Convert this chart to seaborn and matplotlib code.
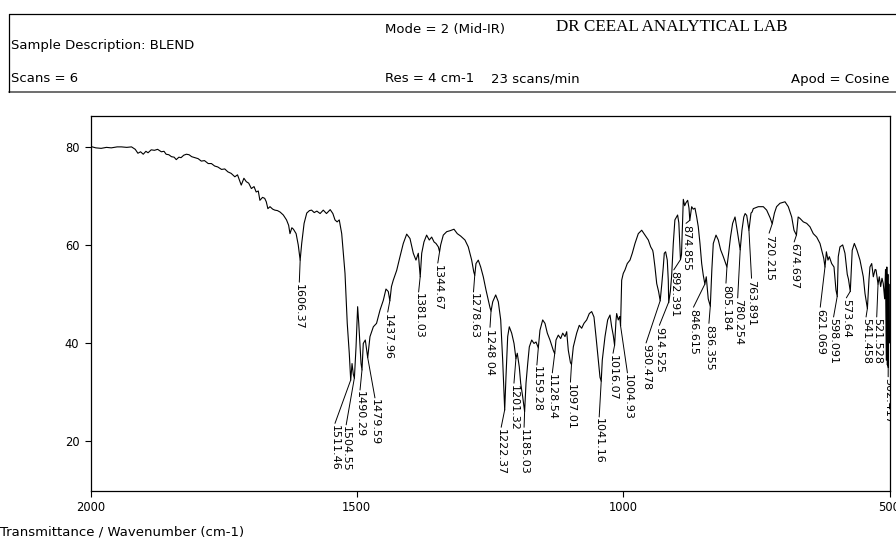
import numpy as np
import pandas as pd
import matplotlib
matplotlib.use("Agg")
import matplotlib.pyplot as plt
import seaborn as sns

# ---------------- data ----------------
wavenumber = [
    2000, 1990, 1980, 1970, 1961, 1950, 1942, 1932, 1923, 1916, 1911, 1906, 1901, 1896,
    1892, 1886, 1880, 1874, 1867, 1862, 1858, 1853, 1848, 1843, 1839, 1834, 1830, 1825,
    1820, 1815, 1810, 1804, 1798, 1792, 1786, 1779, 1773, 1767, 1761, 1754, 1748, 1742,
    1736, 1729, 1724, 1717, 1712, 1707.5, 1703, 1698, 1693, 1689, 1685, 1682, 1677, 1673,
    1670, 1667, 1663, 1658, 1654, 1649, 1644, 1638, 1632, 1628, 1625.5, 1622, 1619, 1614,
    1610, 1606.4, 1603.5, 1599, 1594, 1589, 1585, 1580, 1575, 1569, 1563, 1557, 1550, 1545,
    1541, 1537, 1533, 1528.4, 1522.2, 1518, 1514.2, 1511.5, 1509, 1506.6, 1504.6, 1501.5,
    1498.5, 1496.4, 1494, 1492.1, 1490.3, 1487.9, 1484.1, 1479.6, 1475.3, 1469, 1463, 1456.5,
    1450.3, 1445.3, 1441, 1438, 1435, 1431.6, 1425.2, 1419, 1412.8, 1406.4, 1400.2, 1394,
    1389, 1384.6, 1381, 1378.2, 1374, 1369, 1364, 1359.5, 1355, 1351.4, 1347, 1344.7, 1342.6,
    1337.7, 1331.3, 1325, 1317.6, 1311.4, 1305, 1297, 1290.8, 1284.4, 1280.5, 1278.6, 1276.3,
    1272, 1267.5, 1262.6, 1257.5, 1253.2, 1250, 1248, 1244.9, 1239.3, 1234.4, 1229.9, 1226.2,
    1222.4, 1220, 1216.8, 1213.8, 1209.3, 1204.9, 1201.3, 1198.8, 1195, 1192.4, 1188.6, 1185,
    1182.4, 1179.2, 1176.2, 1171.7, 1167.4, 1163.6, 1159.3, 1156.2, 1151.1, 1146.8, 1142.4,
    1137.4, 1131.2, 1128.5, 1126.1, 1121.8, 1117.3, 1113.5, 1109.2, 1106, 1103, 1099, 1097,
    1093.6, 1087.3, 1082.4, 1077.9, 1073.6, 1068.5, 1063.6, 1059.1, 1054.8, 1051, 1046.7,
    1043.5, 1041.2, 1039.2, 1034.1, 1029.1, 1024.7, 1021.6, 1018.5, 1016.1, 1013.5, 1012.2,
    1009.2, 1006.5, 1004.9, 1002.8, 999.8, 996.6, 992.3, 987.2, 982.9, 977.8, 971.6, 965.2,
    959, 952.8, 948.3, 944.6, 943.5, 940.3, 937, 933.5, 930.5, 927.5, 924.7, 922.8, 920.3,
    917.2, 915.3, 914.5, 911.5, 909.1, 905.9, 902.9, 897.8, 895.5, 893.8, 892.4, 890.5, 887.1,
    884.5, 882.1, 878.9, 876.4, 874.9, 871.4, 868.4, 865.2, 862, 859, 855.8, 852.6, 849.6,
    846.6, 844, 840.3, 836.4, 833.5, 830.8, 825.7, 821.4, 817, 812, 808.5, 805.2, 802, 798.5,
    794.5, 790, 786, 780.3, 777, 773.5, 771, 768, 763.9, 760, 758, 755.7, 746.3, 736.9, 730.6,
    724, 720.2, 716, 712, 705.6, 696.2, 690, 683.6, 679.3, 674.7, 671.5, 668, 661.8, 655.5,
    649.3, 643.1, 636.7, 630.5, 627.3, 623.5, 621.1, 618.5, 615.5, 613, 608.6, 604.2, 600.5,
    598.1, 596.2, 593, 587.9, 583.6, 579.3, 577, 573.6, 570, 566, 561, 555.4, 549.2, 546,
    541.5, 538.5, 536.7, 533.4, 530.4, 527, 525.3, 521.5, 519.2, 516.6, 514.1, 511.7, 509.1,
    507.5, 506, 505, 504, 503, 502.4, 501.2, 500,
]
transmittance = [
    80.1, 79.8, 79.7, 79.9, 79.8, 80.0, 80.0, 79.9, 80.0, 79.5, 78.7, 79.0, 78.5, 79.1,
    78.8, 79.4, 79.3, 79.5, 79.0, 79.1, 78.5, 78.4, 78.0, 77.9, 77.4, 77.9, 77.8, 78.3,
    78.5, 78.4, 78.0, 77.8, 77.6, 77.1, 77.2, 76.6, 76.6, 76.1, 75.9, 75.4, 75.5, 74.9,
    74.6, 73.9, 74.3, 72.2, 73.6, 72.9, 72.6, 71.5, 71.9, 70.8, 71.0, 69.1, 69.7, 69.5,
    68.8, 67.4, 67.8, 67.3, 67.1, 67.0, 66.7, 66.1, 65.1, 64.0, 62.3, 63.5, 63.2, 62.3,
    60.0, 56.9, 60.3, 64.4, 66.5, 67.0, 67.1, 66.6, 66.9, 66.4, 67.1, 66.4, 67.2, 66.4,
    65.1, 64.7, 65.1, 62.3, 54.2, 44.0, 37.9, 32.4, 35.8, 33.6, 32.8, 39.2,
    47.4, 44.0, 39.2, 35.8, 34.5, 39.9, 40.6, 37.0, 41.3, 43.3, 44.0, 46.7,
    48.7, 51.0, 50.5, 48.6, 51.5, 52.8, 54.8, 57.6, 60.3, 62.2, 61.3, 58.3,
    56.9, 58.3, 53.5, 58.3, 60.6, 62.0, 61.0, 61.6, 60.6, 60.3, 59.6, 58.6, 60.0,
    62.0, 62.7, 62.9, 63.2, 62.3, 61.8, 61.0, 59.6, 56.9, 54.5, 53.8, 56.2,
    56.9, 55.5, 53.5, 50.8, 48.7, 47.2, 46.5, 48.4, 49.8, 48.4, 44.7, 36.5,
    26.3, 33.1, 41.3, 43.3, 42.0, 39.9, 36.8, 37.9, 35.1, 31.8, 29.0, 26.0,
    31.8, 35.8, 39.2, 40.6, 39.9, 40.2, 39.0, 42.6, 44.7, 44.0, 42.0,
    40.6, 38.5, 37.8, 40.6, 41.6, 40.9, 42.0, 41.3, 42.3, 38.5, 36.0, 35.6,
    39.2, 42.0, 43.6, 43.0, 44.0, 44.7, 46.0, 46.4, 45.3, 41.3, 36.5,
    33.0, 32.2, 36.5, 41.3, 44.7, 45.7, 43.3, 41.5, 39.5, 44.5, 46.0,
    44.7, 45.4, 43.5, 52.8, 54.2, 54.9, 56.2, 56.9, 58.3, 60.3, 62.3, 63.0,
    62.0, 61.0, 59.6, 58.9, 58.3, 55.5, 52.1, 50.5, 48.6, 52.0, 55.5, 58.3, 58.6,
    56.9, 52.8, 48.2, 50.5, 53.5, 60.3, 65.1, 66.1, 64.5, 60.5, 57.0, 58.0, 69.3,
    68.0, 68.6, 69.1, 67.5, 65.0, 67.8, 67.3, 67.5, 65.7, 63.7, 60.3, 56.2, 53.8,
    52.0, 53.5, 49.0, 47.5, 55.0, 60.3, 62.0, 61.0, 59.0, 57.6, 56.5, 55.5, 58.3, 61.6,
    64.4, 65.7, 63.0, 59.0, 63.0, 65.7, 66.4, 66.0, 63.0, 66.5, 66.7, 67.4, 67.8, 67.8, 67.1,
    65.5, 64.3, 66.5, 67.8, 68.5, 68.8, 67.8, 65.7, 63.0, 62.0, 65.7, 65.4, 64.7, 64.4,
    63.7, 62.3, 61.6, 60.3, 58.9, 57.3, 55.5, 58.6, 56.9, 57.6, 56.2, 55.5, 50.8,
    49.5, 57.6, 59.6, 60.0, 58.3, 54.0, 53.0, 50.5, 58.9, 60.3, 58.9, 56.9, 53.5, 50.1,
    47.0, 53.0, 55.5, 56.2, 53.5, 55.0, 54.9, 52.0, 53.5, 51.5, 53.2, 52.1, 49.0,
    55.0, 36.5, 55.5, 35.5, 54.0, 35.0, 52.0, 40.0,
]

peak_wn = [1606.37, 1511.46, 1504.55, 1490.29, 1479.59, 1437.96, 1381.03, 1344.67,
           1278.63, 1248.04, 1222.37, 1201.32, 1185.03, 1159.28, 1128.54, 1097.01,
           1041.16, 1016.07, 1004.93, 930.478, 914.525, 892.391, 874.855, 846.615,
           836.355, 805.184, 780.254, 763.891, 720.215, 674.697, 621.069, 598.091,
           573.64, 541.458, 521.528, 502.417]
peak_labels = ["1606.37", "1511.46", "1504.55", "1490.29", "1479.59", "1437.96", "1381.03",
               "1344.67", "1278.63", "1248 04", "1222.37", "1201.32", "1185.03", "1159.28",
               "1128.54", "1097.01", "1041.16", "1016.07", "1004.93", "930.478", "914.525",
               "892.391", "874.855", "846.615", "836.355", "805.184", "780.254", "763.891",
               "720.215", "674.697", "621.069", "598.091", "573.64", "541.458", "521.528",
               "502.417"]
# layout: where each rotated label starts (wavenumber, transmittance)
label_wn = [1608, 1541, 1520, 1494, 1466, 1442, 1384, 1348, 1281, 1250, 1229, 1205,
            1186, 1162, 1133, 1099, 1045, 1019, 992, 957, 932, 905, 882, 868, 839, 807,
            785, 759, 726, 679, 630, 605, 581, 544, 524, 502.5]
label_T = [52.4, 23.6, 23.3, 30.4, 28.8, 46.3, 50.4, 56.3, 50.4, 43.2, 22.8, 31.8, 22.8,
           35.5, 33.9, 32.0, 24.9, 37.9, 33.9, 40.0, 43.6, 54.9, 64.4, 47.3, 44.0, 52.2,
           49.2, 53.2, 62.4, 60.6, 47.3, 45.3, 49.2, 45.3, 45.3, 33.1]

x_ticks = [2000, 1500, 1000, 500]
y_ticks = [20, 40, 60, 80]

# ---------------- plot ----------------
sns.set_theme(style="ticks")
plt.rcParams["font.family"] = ["DejaVu Sans"]

W, H = 896, 540
fig = plt.figure(figsize=(W / 100, H / 100), dpi=100)
ax = fig.add_axes([90.5 / W, (H - 491) / H, 799 / W, 375 / H])

df = pd.DataFrame({"wn": wavenumber, "T": transmittance})
sns.lineplot(data=df, x="wn", y="T", ax=ax, color="black", linewidth=0.8,
             estimator=None, sort=False)

ax.set_xlim(2000, 500)
ax.set_ylim(9.8, 86.3)
ax.set_xticks(x_ticks)
ax.set_yticks(y_ticks)
ax.set_xticklabels([str(t) for t in x_ticks])
ax.set_yticklabels([str(t) for t in y_ticks])
ax.set_xlabel("")
ax.set_ylabel("")
ax.tick_params(axis="both", direction="out", length=4, width=0.8, color="black",
               labelsize=8.3, labelcolor="black")
ax.tick_params(axis="x", pad=3)
ax.tick_params(axis="y", pad=4)
for s in ax.spines.values():
    s.set_visible(True)
    s.set_color("black")
    s.set_linewidth(0.9)
ax.set_facecolor("white")
fig.patch.set_facecolor("white")

wn_arr = np.array(wavenumber)[::-1]
t_arr = np.array(transmittance)[::-1]
for pw, lab, lw_, lt in zip(peak_wn, peak_labels, label_wn, label_T):
    pt = float(np.interp(pw, wn_arr, t_arr))
    ax.plot([pw, lw_], [pt, lt], color="black", linewidth=0.7)
    ax.text(lw_, lt - 0.3, lab, rotation=-90, ha="center", va="top", fontsize=8,
            color="black", clip_on=True, rotation_mode="default")

# ---------------- header ----------------
def fx(px):
    return px / W

def fy(py):
    return 1 - py / H

line_kw = dict(color="black", linewidth=0.9, transform=fig.transFigure)
fig.add_artist(plt.Line2D([fx(9), fx(896)], [fy(14), fy(14)], **line_kw))
fig.add_artist(plt.Line2D([fx(9), fx(896)], [fy(92), fy(92)], color="#555555",
                          linewidth=1.2, transform=fig.transFigure))
fig.add_artist(plt.Line2D([fx(9), fx(9)], [fy(14), fy(92)], **line_kw))

hdr = dict(fontsize=9.5, color="black", va="center")
fig.text(fx(385), fy(29), "Mode = 2 (Mid-IR)", ha="left", **hdr)
fig.text(fx(556), fy(27), "DR CEEAL ANALYTICAL LAB", ha="left", va="center",
         fontsize=12.3, family=["Liberation Serif", "DejaVu Serif"], color="black")
fig.text(fx(11), fy(45), "Sample Description: BLEND", ha="left", **hdr)
fig.text(fx(11), fy(79), "Scans = 6", ha="left", **hdr)
fig.text(fx(385), fy(79), "Res = 4 cm-1", ha="left", **hdr)
fig.text(fx(491), fy(79), "23 scans/min", ha="left", **hdr)
fig.text(fx(889), fy(79), "Apod = Cosine", ha="right", **hdr)
fig.text(fx(0), fy(532), "Transmittance / Wavenumber (cm-1)", ha="left", **hdr)

fig.savefig("out.png", dpi=100, facecolor="white")
